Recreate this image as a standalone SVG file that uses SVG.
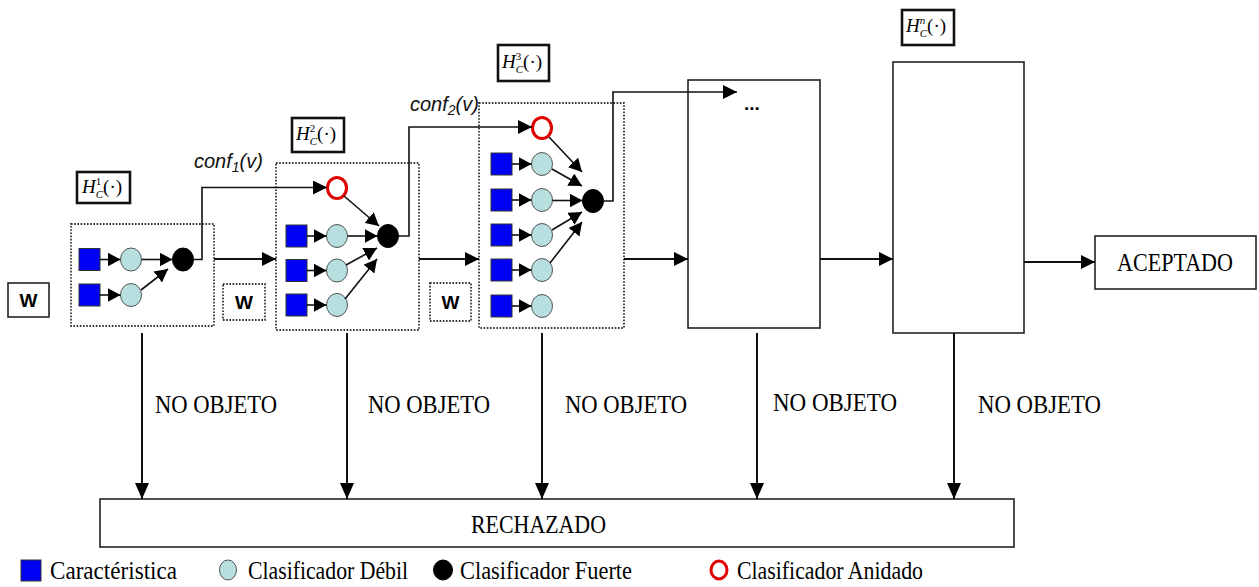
<svg xmlns="http://www.w3.org/2000/svg" width="1259" height="587" viewBox="0 0 1259 587">
<style>
.bg{fill:#fff}
.box{fill:#fff;stroke:#222;stroke-width:1.6}
.dot{fill:none;stroke:#333;stroke-width:1.8;stroke-dasharray:1.6 1.6}
.hbox{fill:#fff;stroke:#111;stroke-width:2.6}
.sq{fill:#0000f5;stroke:#333;stroke-width:1}
.wk{fill:#b7dfe0;stroke:#555;stroke-width:1}
.st{fill:#000;stroke:#000;stroke-width:1}
.ne{fill:#fff;stroke:#e00000;stroke-width:3}
.ln{fill:none;stroke:#111;stroke-width:2}
.li{fill:none;stroke:#111;stroke-width:1.6}
.serif{font-family:"Liberation Serif","Times New Roman",serif;font-size:25px;fill:#000}
.math{font-family:"Liberation Serif","Times New Roman",serif;font-size:19px;fill:#000}
.sp{font-size:11px}
.conf{font-family:"Liberation Sans",Arial,sans-serif;font-size:20px;font-style:italic;fill:#111}
.w{font-family:"Liberation Sans",Arial,sans-serif;font-size:19px;font-weight:bold;fill:#000}
</style>
<defs>
<marker id="ah" markerUnits="userSpaceOnUse" markerWidth="15" markerHeight="15" refX="14" refY="7" orient="auto"><path d="M0,0L14,7L0,14z" fill="#000"/></marker>
<marker id="as" markerUnits="userSpaceOnUse" markerWidth="14" markerHeight="14" refX="13" refY="7" orient="auto"><path d="M0,0L13,7L0,14z" fill="#000"/></marker>
<marker id="ad" markerUnits="userSpaceOnUse" markerWidth="17" markerHeight="15" refX="16" refY="7" orient="auto"><path d="M0,0L16,7L0,14z" fill="#000"/></marker>
</defs>
<rect class="bg" x="0" y="0" width="1259" height="587"/>

<g id="w-input">
<rect class="box" x="8" y="283" width="41" height="34"/>
<text class="w" x="28.5" y="307" text-anchor="middle">W</text>
</g>

<g id="stage1">
<rect class="dot" x="71" y="224" width="143" height="102"/>
<rect class="sq" x="79" y="248.5" width="21" height="22"/>
<rect class="sq" x="79" y="284" width="21" height="22"/>
<ellipse class="wk" cx="131" cy="259.5" rx="10.5" ry="11.5"/>
<ellipse class="wk" cx="131" cy="295" rx="10.5" ry="11.5"/>
<ellipse class="st" cx="183" cy="259.5" rx="10.5" ry="11.5"/>
</g>
<g id="label-h1">
<rect class="hbox" x="77" y="172" width="53" height="31"/>
<text class="math" x="82" y="193"><tspan font-style="italic">H</tspan><tspan class="sp" dy="-8">1</tspan><tspan class="sp" font-style="italic" dx="-5.5" dy="13">C</tspan><tspan dy="-5">(·)</tspan></text>
</g>
<g id="w-1">
<rect class="dot" x="223" y="284" width="42" height="36"/>
<text class="w" x="244" y="309" text-anchor="middle">W</text>
</g>

<g id="stage2">
<rect class="dot" x="276" y="163" width="143" height="167"/>
<ellipse class="ne" cx="337" cy="188" rx="9.5" ry="10.5"/>
<rect class="sq" x="286" y="225" width="21" height="22"/>
<rect class="sq" x="286" y="259.5" width="21" height="22"/>
<rect class="sq" x="286" y="294" width="21" height="22"/>
<ellipse class="wk" cx="337" cy="236" rx="10.5" ry="11.5"/>
<ellipse class="wk" cx="337" cy="270.5" rx="10.5" ry="11.5"/>
<ellipse class="wk" cx="337" cy="305" rx="10.5" ry="11.5"/>
<ellipse class="st" cx="388" cy="236" rx="10.5" ry="11.5"/>
</g>
<g id="label-h2">
<rect class="hbox" x="292" y="118" width="52" height="34"/>
<text class="math" x="296" y="140"><tspan font-style="italic">H</tspan><tspan class="sp" dy="-8">2</tspan><tspan class="sp" font-style="italic" dx="-5.5" dy="13">C</tspan><tspan dy="-5">(·)</tspan></text>
</g>
<g id="w-2">
<rect class="dot" x="430" y="283" width="41" height="38"/>
<text class="w" x="450.5" y="309" text-anchor="middle">W</text>
</g>

<g id="stage3">
<rect class="dot" x="479" y="103" width="145" height="225"/>
<ellipse class="ne" cx="542" cy="128" rx="9.5" ry="10.5"/>
<rect class="sq" x="491" y="153" width="21" height="22"/>
<rect class="sq" x="491" y="189" width="21" height="22"/>
<rect class="sq" x="491" y="224" width="21" height="22"/>
<rect class="sq" x="491" y="259" width="21" height="22"/>
<rect class="sq" x="491" y="295" width="21" height="22"/>
<ellipse class="wk" cx="542" cy="164" rx="10.5" ry="11.5"/>
<ellipse class="wk" cx="542" cy="200" rx="10.5" ry="11.5"/>
<ellipse class="wk" cx="542" cy="235" rx="10.5" ry="11.5"/>
<ellipse class="wk" cx="542" cy="270" rx="10.5" ry="11.5"/>
<ellipse class="wk" cx="542" cy="306" rx="10.5" ry="11.5"/>
<ellipse class="st" cx="593" cy="201" rx="10.5" ry="11.5"/>
</g>
<g id="label-h3">
<rect class="hbox" x="498" y="45" width="51" height="36"/>
<text class="math" x="502" y="68"><tspan font-style="italic">H</tspan><tspan class="sp" dy="-8">3</tspan><tspan class="sp" font-style="italic" dx="-5.5" dy="13">C</tspan><tspan dy="-5">(·)</tspan></text>
</g>

<g id="stage4">
<rect class="box" x="688" y="80" width="132" height="248"/>
<text class="w" x="744" y="110">...</text>
</g>

<g id="stage5">
<rect class="box" x="893" y="62" width="131" height="271"/>
</g>
<g id="label-hn">
<rect class="hbox" x="902" y="10" width="52" height="35"/>
<text class="math" x="906" y="32"><tspan font-style="italic">H</tspan><tspan class="sp" font-style="italic" dy="-8">n</tspan><tspan class="sp" font-style="italic" dx="-5.5" dy="13">C</tspan><tspan dy="-5">(·)</tspan></text>
</g>

<g id="aceptado">
<rect class="box" x="1095" y="236" width="161" height="53"/>
<text class="serif" x="1117" y="271" textLength="116" lengthAdjust="spacingAndGlyphs">ACEPTADO</text>
</g>

<g id="rechazado">
<rect class="box" x="100" y="499" width="914" height="48"/>
<text class="serif" x="471" y="533" textLength="135" lengthAdjust="spacingAndGlyphs">RECHAZADO</text>
</g>

<g id="connectors">
<!-- stage 1 internal -->
<line class="li" x1="100" y1="259.5" x2="120.5" y2="259.5" marker-end="url(#as)"/>
<line class="li" x1="100" y1="295" x2="120.5" y2="295" marker-end="url(#as)"/>
<line class="li" x1="141.5" y1="259.5" x2="172.5" y2="259.5" marker-end="url(#as)"/>
<line class="li" x1="141" y1="290" x2="168" y2="269" marker-end="url(#as)"/>
<!-- stage 2 internal -->
<line class="li" x1="307" y1="236" x2="326.5" y2="236" marker-end="url(#as)"/>
<line class="li" x1="307" y1="270.5" x2="326.5" y2="270.5" marker-end="url(#as)"/>
<line class="li" x1="307" y1="305" x2="326.5" y2="305" marker-end="url(#as)"/>
<line class="li" x1="344" y1="196" x2="379" y2="226" marker-end="url(#as)"/>
<line class="li" x1="347.5" y1="236" x2="377.5" y2="236" marker-end="url(#as)"/>
<line class="li" x1="346" y1="265" x2="377" y2="248" marker-end="url(#as)"/>
<line class="li" x1="345" y1="299" x2="377" y2="259" marker-end="url(#as)"/>
<!-- stage 3 internal -->
<line class="li" x1="512" y1="164" x2="531.5" y2="164" marker-end="url(#as)"/>
<line class="li" x1="512" y1="200" x2="531.5" y2="200" marker-end="url(#as)"/>
<line class="li" x1="512" y1="235" x2="531.5" y2="235" marker-end="url(#as)"/>
<line class="li" x1="512" y1="270" x2="531.5" y2="270" marker-end="url(#as)"/>
<line class="li" x1="512" y1="306" x2="531.5" y2="306" marker-end="url(#as)"/>
<line class="li" x1="549" y1="137" x2="582" y2="172" marker-end="url(#as)"/>
<line class="li" x1="552" y1="169" x2="582" y2="186" marker-end="url(#as)"/>
<line class="li" x1="552.5" y1="200.5" x2="582.5" y2="200.5" marker-end="url(#as)"/>
<line class="li" x1="552" y1="230" x2="582" y2="212" marker-end="url(#as)"/>
<line class="li" x1="550" y1="263" x2="582" y2="222" marker-end="url(#as)"/>
<!-- confidence links -->
<polyline class="li" points="193.5,259.5 202,259.5 202,187.5 327,187.5" marker-end="url(#ah)"/>
<polyline class="li" points="398.5,236 409,236 409,127 532,127" marker-end="url(#ah)"/>
<polyline class="li" points="603.5,201 613,201 613,92 737,92" marker-end="url(#ah)"/>
<text class="conf" x="194" y="168">conf<tspan font-size="14" dy="4">1</tspan><tspan dy="-4">(v)</tspan></text>
<text class="conf" x="410" y="111">conf<tspan font-size="14" dy="4">2</tspan><tspan dy="-4">(v)</tspan></text>
<!-- stage chain -->
<line class="ln" x1="214" y1="259" x2="276" y2="259" marker-end="url(#ah)"/>
<line class="ln" x1="419" y1="259" x2="479" y2="259" marker-end="url(#ah)"/>
<line class="ln" x1="624" y1="259" x2="688" y2="259" marker-end="url(#ah)"/>
<line class="ln" x1="820" y1="259" x2="893" y2="259" marker-end="url(#ah)"/>
<line class="ln" x1="1024" y1="262" x2="1095" y2="262" marker-end="url(#ah)"/>
<!-- rejections -->
<line class="ln" x1="142" y1="333" x2="142" y2="499" marker-end="url(#ad)"/>
<line class="ln" x1="347" y1="333" x2="347" y2="499" marker-end="url(#ad)"/>
<line class="ln" x1="542" y1="333" x2="542" y2="499" marker-end="url(#ad)"/>
<line class="ln" x1="757" y1="333" x2="757" y2="499" marker-end="url(#ad)"/>
<line class="ln" x1="954" y1="333" x2="954" y2="499" marker-end="url(#ad)"/>
<text class="serif" x="155" y="413" textLength="122" lengthAdjust="spacingAndGlyphs">NO OBJETO</text>
<text class="serif" x="368" y="413" textLength="122" lengthAdjust="spacingAndGlyphs">NO OBJETO</text>
<text class="serif" x="565" y="413" textLength="122" lengthAdjust="spacingAndGlyphs">NO OBJETO</text>
<text class="serif" x="773" y="411" textLength="124" lengthAdjust="spacingAndGlyphs">NO OBJETO</text>
<text class="serif" x="978" y="413" textLength="123" lengthAdjust="spacingAndGlyphs">NO OBJETO</text>
</g>

<g id="legend">
<rect class="sq" x="21" y="560" width="20" height="21"/>
<text class="serif" x="50" y="579" textLength="127" lengthAdjust="spacingAndGlyphs">Caractéristica</text>
<ellipse class="wk" cx="228" cy="570" rx="8.5" ry="10"/>
<text class="serif" x="248" y="579" textLength="160" lengthAdjust="spacingAndGlyphs">Clasificador Débil</text>
<ellipse class="st" cx="443" cy="570" rx="9.5" ry="10"/>
<text class="serif" x="460" y="579" textLength="172" lengthAdjust="spacingAndGlyphs">Clasificador Fuerte</text>
<ellipse class="ne" cx="719" cy="570" rx="8" ry="9"/>
<text class="serif" x="737" y="579" textLength="186" lengthAdjust="spacingAndGlyphs">Clasificador Anidado</text>
</g>
</svg>
